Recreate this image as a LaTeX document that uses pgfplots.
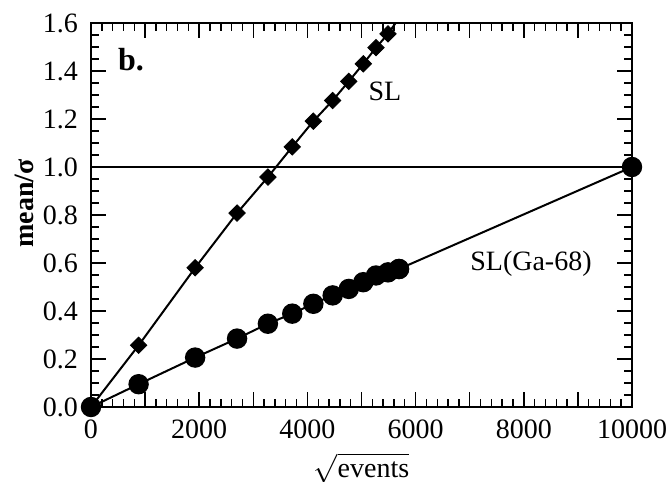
\documentclass[border=0pt]{standalone}
\usepackage{pgfplots}
\pgfplotsset{compat=1.18}
\usepackage{fontspec}
\setmainfont{Liberation Serif}
\pgfplotstableread{
x      sl     ga
0      0      0
880    0.257  0.095
1925   0.580  0.206
2700   0.808  0.285
3270   0.958  0.347
3720   1.084  0.389
4110   1.191  0.430
4467   1.277  0.465
4765   1.357  0.492
5033   1.430  0.520
5268   1.497  0.548
5490   1.555  0.561
5693   1.620  0.575
}\data
\begin{document}
\begin{tikzpicture}
\begin{axis}[name=ax, scale only axis, width=270.5pt, height=192pt,
  xmin=0, xmax=10000, ymin=0, ymax=1.6,
  scaled x ticks=false, scaled y ticks=false,
  xtick={0,1000,2000,3000,4000,5000,6000,7000,8000,9000,10000},
  xticklabels={0,,2000,,4000,,6000,,8000,,10000},
  minor x tick num=4,
  ytick={0,0.2,0.4,0.6,0.8,1.0,1.2,1.4,1.6},
  yticklabels={0.0,0.2,0.4,0.6,0.8,1.0,1.2,1.4,1.6},
  minor y tick num=3,
  tick align=inside, tick pos=both,
  major tick length=7.5pt, minor tick length=4pt,
  every tick/.style={black, line width=0.7pt},
  axis line style={line width=1pt},
  font=\fontsize{14}{16}\selectfont,
  /pgf/number format/assume math mode=true,
  xticklabel style={yshift=-3pt},
  yticklabel style={xshift=-3pt},
  every axis y label/.style={at={(axis description cs:-0.124,0.53)}, rotate=90, anchor=center},
  every axis x label/.style={at={(axis description cs:0.5,0)}, anchor=center, yshift=-30.5pt},
  ylabel={\textbf{mean/σ}},
  xlabel={$\sqrt{\mbox{events}}$},
]
\addplot[line width=0.7pt, black] coordinates {(0,1) (10000,1)};
\addplot[line width=1pt, black, no markers] table[x=x,y=sl] {\data};
\addplot[only marks, mark=square*, mark size=2.9pt, mark options={rotate=45, fill=black}] table[x=x,y=sl, skip coords between index={12}{13}] {\data};
\addplot[line width=1pt, black, mark=*, mark size=4.6pt, mark options={fill=black}] table[x=x,y=ga] {\data};
\addplot[line width=1pt, black, mark=*, mark size=4.6pt, mark options={fill=black}] coordinates {(5693,0.575) (10000,1.0)};
\node at (axis cs:740,1.448) {\fontsize{16}{18}\selectfont\textbf{b.}};
\node at (axis cs:5434,1.315) {SL};
\node at (axis cs:8133,0.598) {SL(Ga-68)};
\end{axis}
\pgfresetboundingbox
\path ([shift={(-45.5pt,-37.5pt)}]ax.south west) rectangle ([shift={(19pt,11.5pt)}]ax.north east);
\end{tikzpicture}
\end{document}
